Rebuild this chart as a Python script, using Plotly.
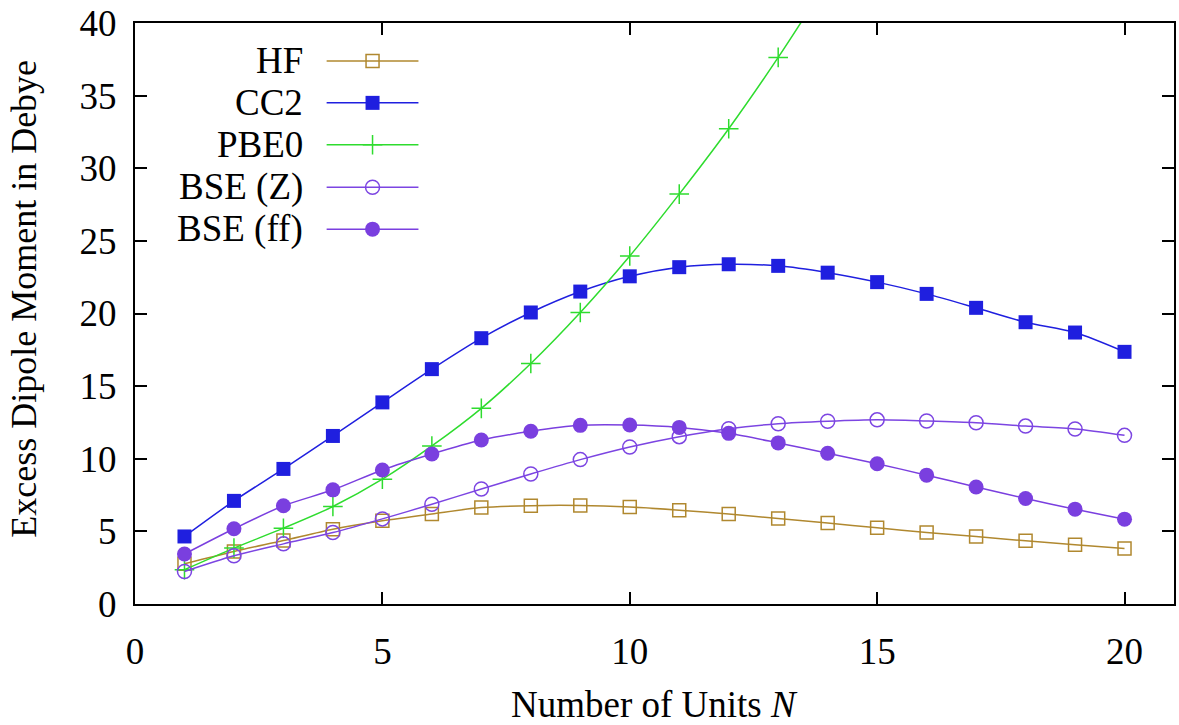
import plotly.graph_objects as go

# ---- data ----
units = list(range(1, 21))
hf = [2.77, 3.62, 4.37, 5.15, 5.73, 6.20, 6.64, 6.77, 6.78, 6.67,
      6.46, 6.19, 5.88, 5.57, 5.25, 4.92, 4.65, 4.35, 4.08, 3.82]
cc2 = [4.65, 7.10, 9.30, 11.57, 13.88, 16.17, 18.30, 20.07, 21.51, 22.56,
       23.19, 23.39, 23.28, 22.81, 22.16, 21.35, 20.39, 19.40, 18.69, 17.36]
pbe0_units = list(range(1, 15))
pbe0 = [2.36, 3.85, 5.22, 6.71, 8.59, 10.88, 13.47, 16.56, 20.07, 23.96,
        28.22, 32.72, 37.63, 42.9]
bse_z = [2.24, 3.32, 4.14, 4.92, 5.86, 6.87, 7.92, 8.95, 9.94, 10.81,
         11.52, 12.07, 12.41, 12.58, 12.68, 12.60, 12.48, 12.25, 12.05, 11.61]
bse_ff = [3.44, 5.18, 6.76, 7.86, 9.23, 10.33, 11.29, 11.89, 12.30, 12.32,
          12.16, 11.75, 11.09, 10.38, 9.66, 8.87, 8.06, 7.26, 6.53, 5.84]

x_ticks = [0, 5, 10, 15, 20]
y_ticks = [0, 5, 10, 15, 20, 25, 30, 35, 40]

FONT = "Liberation Serif, Times New Roman, serif"
FS = 37

series = [
    ("HF", units, hf, "#b0882f", dict(symbol="square-open", size=13, line=dict(width=1.5))),
    ("CC2", units, cc2, "#1f1fdf", dict(symbol="square", size=14, line=dict(width=0))),
    ("PBE0", pbe0_units, pbe0, "#2edc2e", dict(symbol="cross-thin-open", size=14, line=dict(width=1.5))),
    ("BSE (Z)", units, bse_z, "#7c45e2", dict(symbol="circle-open", size=14, line=dict(width=1.5))),
    ("BSE (ff)", units, bse_ff, "#7a3fdf", dict(symbol="circle", size=15, line=dict(width=0))),
]

fig = go.Figure()
for name, xs, ys, col, mk in series:
    m = dict(mk)
    m["color"] = col
    m["line"] = dict(mk["line"], color=col)
    fig.add_trace(go.Scatter(
        x=xs, y=ys, name=name, mode="lines+markers",
        line=dict(color=col, width=1.5, shape="spline", smoothing=0.8),
        marker=m, showlegend=False,
    ))

# ---- custom legend (text to the left of sample), overlay axis in plot fractions ----
leg_x_text = (305 - 135) / 1041
leg_x0 = (327 - 135) / 1041
leg_x1 = (419 - 135) / 1041
leg_xm = (373 - 135) / 1041
row_px = [60, 102, 144, 186.5, 228.5]
for (name, xs, ys, col, mk), py in zip(series, row_px):
    yy = (604 - py) / 582
    m = dict(mk)
    m["color"] = col
    m["line"] = dict(mk["line"], color=col)
    fig.add_trace(go.Scatter(
        x=[leg_x0, leg_x1], y=[yy, yy], mode="lines", xaxis="x2", yaxis="y2",
        line=dict(color=col, width=1.5), showlegend=False, hoverinfo="skip"))
    fig.add_trace(go.Scatter(
        x=[leg_xm], y=[yy], mode="markers", xaxis="x2", yaxis="y2",
        marker=m, showlegend=False, hoverinfo="skip"))
    fig.add_annotation(x=leg_x_text, y=yy, xref="x2", yref="y2", text=name,
                       showarrow=False, xanchor="right", yanchor="middle",
                       font=dict(family=FONT, size=FS, color="black"))

axis_common = dict(
    showline=True, linecolor="black", linewidth=2, mirror="ticks",
    ticks="inside", ticklen=12, tickwidth=1.5, tickcolor="black",
    showgrid=False, zeroline=False,
    tickfont=dict(family=FONT, size=FS, color="black"),
)

fig.update_layout(
    width=1179, height=725,
    margin=dict(l=135, r=3, t=22, b=121),
    paper_bgcolor="white", plot_bgcolor="white",
    xaxis=dict(range=[0, 21], tickvals=x_ticks, ticklabelstandoff=14, **axis_common),
    yaxis=dict(range=[0, 40], tickvals=y_ticks, ticklabelstandoff=9, **axis_common),
    xaxis2=dict(range=[0, 1], overlaying="x", visible=False, fixedrange=True),
    yaxis2=dict(range=[0, 1], overlaying="y", visible=False, fixedrange=True),
    font=dict(family=FONT, size=FS, color="black"),
)

fig.add_annotation(x=0.5, y=-0.1727, xref="paper", yref="paper",
                   text="Number of Units <i>N</i>", showarrow=False,
                   xanchor="center", yanchor="middle",
                   font=dict(family=FONT, size=FS, color="black"))
fig.add_annotation(x=-0.107, y=0.525, xref="paper", yref="paper",
                   text="Excess Dipole Moment in Debye", showarrow=False,
                   textangle=-90, xanchor="center", yanchor="middle",
                   font=dict(family=FONT, size=36, color="black"))

fig.write_html("out.html", config={"displayModeBar": False},
               post_script="document.body.style.margin='0px';document.body.style.overflow='hidden';")
